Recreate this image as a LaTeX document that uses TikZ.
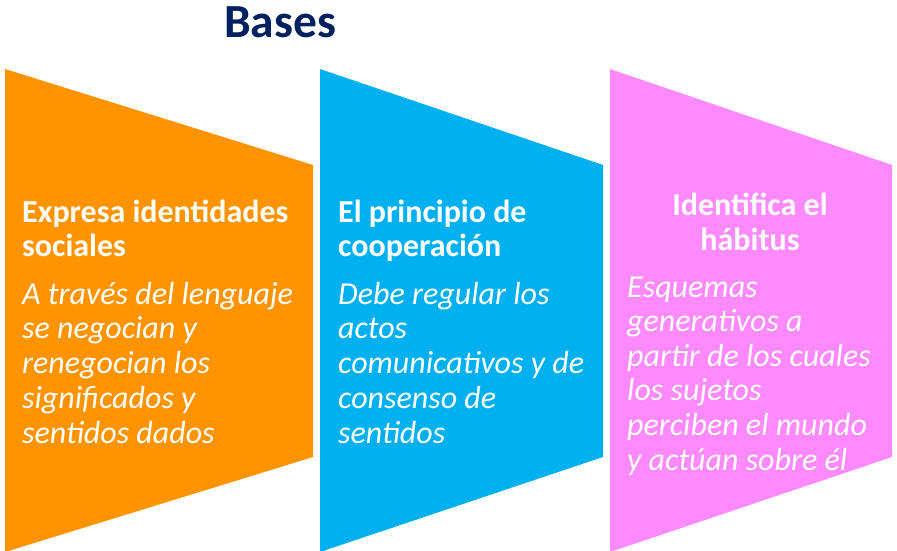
\documentclass[tikz,border=0pt]{standalone}
\usepackage{fontspec}
\setmainfont{Carlito}
\usetikzlibrary{positioning}
\definecolor{naranja}{HTML}{FF9400}
\definecolor{celeste}{HTML}{00B0F0}
\definecolor{rosa}{HTML}{FF8AFF}
\definecolor{marino}{HTML}{002060}

\begin{document}
\begin{tikzpicture}[x=1pt,y=-1pt,
          titulo/.style={marino,font=\fontsize{47.5}{50}\selectfont\bfseries,
                         inner sep=0pt,anchor=base},
          cabeza/.style={white,font=\fontsize{32}{34}\selectfont\bfseries,
                         inner sep=0pt,anchor=base west,align=left},
          cuerpo/.style={white,font=\fontsize{32}{34.75}\selectfont\itshape,
                         inner sep=0pt,anchor=base west,align=left}]
        \useasboundingbox (0,0) rectangle (897,550);
        \fill[naranja] (5,69) -- (313,165) -- (313,457) -- (5,552) -- cycle;
        \fill[celeste] (320,69) -- (603,165) -- (603,457) -- (320,552) -- cycle;
        \fill[rosa] (610,69) -- (892,165) -- (892,457) -- (610,552) -- cycle;
        \node[titulo] (bases) at (280,37) {Bases};
        \node[cabeza] (cab1) at (22,256) {Expresa identidades\\sociales};
        \node[cuerpo] (txt1) at (22,443)
          {A través del lenguaje\\se negocian y\\renegocian los\\significados y\\sentidos dados};
        \node[cabeza] (cab2) at (338,256) {El principio de\\cooperación};
        \node[cuerpo] (txt2) at (338,443)
          {Debe regular los\\actos\\comunicativos y de\\consenso de\\sentidos};
        \node[cabeza,anchor=base,align=center,font=\fontsize{32}{35}\selectfont\bfseries]
          (cab3) at (750,250) {Identifica el\\hábitus};
        \node[cuerpo,font=\fontsize{32}{34.6}\selectfont\itshape] (txt3) at (627,470)
          {Esquemas\\generativos a\\partir de los cuales\\los sujetos\\perciben el mundo\\y actúan sobre él};
      \end{tikzpicture}
\end{document}
